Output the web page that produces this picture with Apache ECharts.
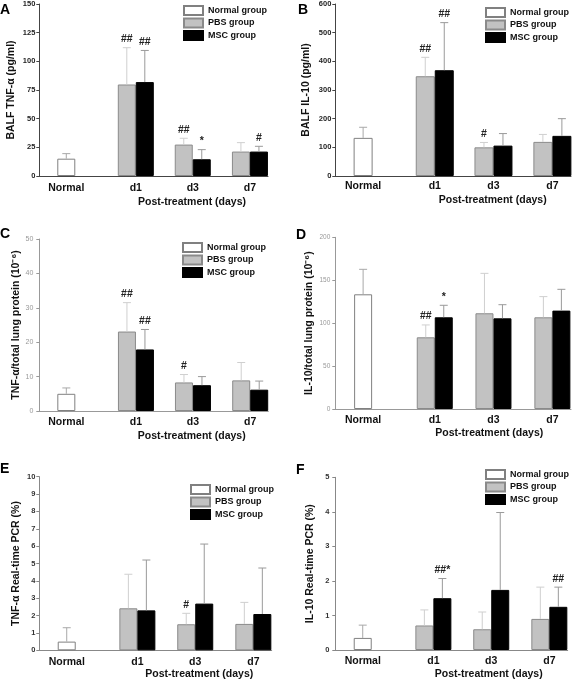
<!DOCTYPE html>
<html><head><meta charset="utf-8">
<script src="https://cdn.jsdelivr.net/npm/echarts@6/dist/echarts.min.js"></script>
<style>html,body{margin:0;padding:0;background:#fff}#c{width:572px;height:681px}</style>
</head><body><div id="c"></div>
<script>
// ---------- data ----------
const categories = ['Normal', 'd1', 'd3', 'd7'];
const groupNames = ['Normal group', 'PBS group', 'MSC group'];

// A: BALF TNF-α (pg/ml)
const aNormal = [15.1], aNormalErr = [4.4];
const aPBS = [79.8, 27.4, 21.3], aPBSErr = [32.1, 5.5, 7.8];
const aMSC = [81.9, 14.6, 21.3], aMSCErr = [27.6, 8.4, 4.6];
const aPBSSig = ['##', '##', ''], aMSCSig = ['##', '*', '#'];

// B: BALF IL-10 (pg/ml)
const bNormal = [133], bNormalErr = [37];
const bPBS = [348, 100, 119], bPBSErr = [66, 17, 26];
const bMSC = [369, 106, 140], bMSCErr = [166, 42, 60];
const bPBSSig = ['##', '#', ''], bMSCSig = ['##', '', ''];

// C: TNF-α/total lung protein
const cNormal = [5.0], cNormalErr = [1.7];
const cPBS = [23.1, 8.3, 8.9], cPBSErr = [8.4, 2.3, 5.2];
const cMSC = [17.9, 7.5, 6.2], cMSCErr = [5.8, 2.5, 2.5];
const cPBSSig = ['##', '#', ''], cMSCSig = ['##', '', ''];

// D: IL-10/total lung protein
const dNormal = [133.6], dNormalErr = [29.1];
const dPBS = [83.5, 111.5, 106.8], dPBSErr = [14.4, 46.5, 24.1];
const dMSC = [106.8, 105.6, 114.6], dMSCErr = [14.0, 15.9, 24.8];
const dPBSSig = ['##', '', ''], dMSCSig = ['*', '', ''];

// E: TNF-α Real-time PCR (%)
const eNormal = [0.5], eNormalErr = [0.8];
const ePBS = [2.42, 1.5, 1.52], ePBSErr = [1.96, 0.63, 1.24];
const eMSC = [2.3, 2.69, 2.09], eMSCErr = [2.9, 3.43, 2.65];
const ePBSSig = ['', '#', ''], eMSCSig = ['', '', ''];

// F: IL-10 Real-time PCR (%)
const fNormal = [0.35], fNormalErr = [0.37];
const fPBS = [0.71, 0.6, 0.9], fPBSErr = [0.45, 0.5, 0.92];
const fMSC = [1.5, 1.74, 1.25], fMSCErr = [0.57, 2.24, 0.57];
const fPBSSig = ['', '', ''], fMSCSig = ['##*', '', '##'];

const yTicksA = [0, 150, 25], yTicksB = [0, 600, 100], yTicksC = [0, 50, 10];
const yTicksD = [0, 200, 50], yTicksE = [0, 10, 1], yTicksF = [0, 5, 1];

// ---------- layout ----------
const FONT = '"Liberation Sans", Arial, Helvetica, sans-serif';
const catX = [0.118, 0.422, 0.671, 0.921];

const panels = [
  {letter:'A', lp:[0,3], grid:{left:39.3, top:4, width:228.7, height:172}, yt:yTicksA,
   yTitle:'BALF TNF-α (pg/ml)', nameGap:23, d:[aNormal,aNormalErr,aPBS,aPBSErr,aMSC,aMSCErr,aPBSSig,aMSCSig],
   bw:18, axisColor:'#444', lab:{color:'#222', fontWeight:'bold', fontSize:7.5}, lm:4, xm:7,
   legend:[183,5], xt:[192,202]},
  {letter:'B', lp:[298,3], grid:{left:335.3, top:4, width:235.7, height:172}, yt:yTicksB,
   yTitle:'BALF IL-10 (pg/ml)', nameGap:24, d:[bNormal,bNormalErr,bPBS,bPBSErr,bMSC,bMSCErr,bPBSSig,bMSCSig],
   bw:19, axisColor:'#444', lab:{color:'#222', fontWeight:'bold', fontSize:7.5}, lm:4, xm:5,
   legend:[485,7], xt:[492.7,200]},
  {letter:'C', lp:[0,227], grid:{left:39.3, top:239, width:229, height:172}, yt:yTicksC,
   yTitle:'TNF-α/total lung protein (10⁻⁶)', nameGap:18, d:[cNormal,cNormalErr,cPBS,cPBSErr,cMSC,cMSCErr,cPBSSig,cMSCSig],
   bw:18, axisColor:'#999', lab:{color:'#999', fontWeight:'normal', fontSize:7}, lm:6, xm:5.5,
   legend:[182,242], xt:[191.7,435.7]},
  {letter:'D', lp:[296,228], grid:{left:335.3, top:237.3, width:235.7, height:171.7}, yt:yTicksD,
   yTitle:'IL-10/total lung protein (10⁻⁶)', nameGap:21, d:[dNormal,dNormalErr,dPBS,dPBSErr,dMSC,dMSCErr,dPBSSig,dMSCSig],
   bw:18, axisColor:'#999', lab:{color:'#999', fontWeight:'normal', fontSize:6.5}, lm:5, xm:5.5,
   legend:null, xt:[489.3,433.3]},
  {letter:'E', lp:[0,462], grid:{left:39.3, top:476.7, width:232.4, height:173.6}, yt:yTicksE,
   yTitle:'TNF-α Real-time PCR (%)', nameGap:18, d:[eNormal,eNormalErr,ePBS,ePBSErr,eMSC,eMSCErr,ePBSSig,eMSCSig],
   bw:18, axisColor:'#888', lab:{color:'#333', fontWeight:'bold', fontSize:7.5}, lm:4, xm:6,
   legend:[190,484], xt:[199.3,674]},
  {letter:'F', lp:[296,463], grid:{left:335.3, top:477.3, width:232.4, height:172.7}, yt:yTicksF,
   yTitle:'IL-10 Real-time PCR (%)', nameGap:20, d:[fNormal,fNormalErr,fPBS,fPBSErr,fMSC,fMSCErr,fPBSSig,fMSCSig],
   bw:18, axisColor:'#888', lab:{color:'#333', fontWeight:'bold', fontSize:7.5}, lm:6, xm:6,
   legend:[485,469], xt:[488.7,674]}
];

const grids = [], xAxes = [], yAxes = [], series = [], legends = [], graphics = [];

function nearestCat(v) {
  let best = 0;
  for (let i = 1; i < catX.length; i++) if (Math.abs(catX[i] - v) < Math.abs(catX[best] - v)) best = i;
  return categories[best];
}

function errSeries(xi, yi, rows, half, color, name) {
  return {
    type: 'custom', name: name + ' error', xAxisIndex: xi, yAxisIndex: yi, z: 5,
    silent: true, tooltip: {show:false}, legendHoverLink: false,
    data: rows.map(r => [r[0], r[1], r[2]]),
    renderItem: function (params, api) {
      const x = api.value(0), v = api.value(1), e = api.value(2);
      const b = api.coord([x, v]);
      const t = api.coord([x, v + e]);
      const cx = b[0] + rows[params.dataIndex][3] * half;
      const sig = rows[params.dataIndex][4];
      const children = [
        {type:'line', shape:{x1:cx, y1:b[1], x2:cx, y2:t[1]}, style:{stroke:color, lineWidth:1}},
        {type:'line', shape:{x1:cx-4, y1:t[1], x2:cx+4, y2:t[1]}, style:{stroke:color, lineWidth:1}}
      ];
      if (sig) children.push({type:'text', x:cx, y:t[1]-3,
        style:{text:sig, textAlign:'center', textVerticalAlign:'bottom', fill:'#222',
               font:'bold 10.5px ' + FONT}});
      return {type:'group', children};
    }
  };
}

panels.forEach((p, i) => {
  grids.push(Object.assign({containLabel:false}, p.grid));
  const [nV, nE, pV, pE, mV, mE, pS, mS] = p.d;
  xAxes.push({
    type:'value', gridIndex:i, min:0, max:1,
    axisLine:{show:true, onZero:false, lineStyle:{color:p.axisColor, width:1}},
    axisTick:{show:false}, splitLine:{show:false},
    axisLabel:{customValues:catX, formatter:v => nearestCat(v), margin:p.xm,
      color:'#111', fontWeight:'bold', fontSize:10.5, fontFamily:FONT}
  });
  xAxes.push({type:'value', gridIndex:i, min:0, max:1, show:false, splitLine:{show:false}});
  yAxes.push({
    type:'value', gridIndex:i, min:p.yt[0], max:p.yt[1], interval:p.yt[2],
    axisLine:{show:true, lineStyle:{color:p.axisColor, width:1}},
    axisTick:{show:true, length:3, lineStyle:{color:p.axisColor}},
    splitLine:{show:false},
    axisLabel:Object.assign({margin:p.lm, fontFamily:FONT}, p.lab),
    name:p.yTitle, nameLocation:'middle', nameRotate:90, nameGap:p.nameGap,
    nameTextStyle:{fontFamily:FONT, fontWeight:'bold', fontSize:10.5, color:'#111'}
  });
  const xv = 2*i, xh = 2*i+1;
  series.push({type:'bar', name:groupNames[0], xAxisIndex:xh, yAxisIndex:i, barWidth:p.bw,
    itemStyle:{color:'#ffffff', borderColor:'#808080', borderWidth:1},
    data:nV.map(v => [catX[0], v])});
  series.push({type:'bar', name:groupNames[1], xAxisIndex:xv, yAxisIndex:i, barWidth:p.bw, barGap:'0%',
    itemStyle:{color:'#c2c2c2', borderColor:'#8a8a8a', borderWidth:1},
    data:pV.map((v, k) => [catX[k+1], v])});
  series.push({type:'bar', name:groupNames[2], xAxisIndex:xv, yAxisIndex:i, barWidth:p.bw, barGap:'0%',
    itemStyle:{color:'#000000', borderColor:'#000000', borderWidth:1},
    data:mV.map((v, k) => [catX[k+1], v])});
  const half = p.bw / 2;
  series.push(errSeries(xv, i, nV.map((v, k) => [catX[0], v, nE[k], 0, '']), half, '#a8a8a8', 'n'));
  series.push(errSeries(xv, i, pV.map((v, k) => [catX[k+1], v, pE[k], -1, pS[k]]), half, '#cfcfcf', 'p'));
  series.push(errSeries(xv, i, mV.map((v, k) => [catX[k+1], v, mE[k], 1, mS[k]]), half, '#9a9a9a', 'm'));

  if (p.legend) legends.push({
    data:groupNames, orient:'vertical', left:p.legend[0], top:p.legend[1],
    itemWidth:19, itemHeight:9, itemGap:1.5, icon:'rect', selectedMode:false, padding:0,
    textStyle:{fontFamily:FONT, fontWeight:'bold', fontSize:9, color:'#111', padding:[0,0,0,0]}
  });
  graphics.push({type:'text', left:p.lp[0], top:p.lp[1],
    style:{text:p.letter, font:'bold 14px ' + FONT, fill:'#000'}});
  graphics.push({type:'text', x:p.xt[0], y:p.xt[1],
    style:{text:'Post-treatment (days)', font:'bold 10.5px ' + FONT, fill:'#111',
           textAlign:'center', textVerticalAlign:'middle'}});
});

const chart = echarts.init(document.getElementById('c'), null, {renderer:'canvas'});
chart.setOption({
  animation:false, backgroundColor:'#ffffff',
  textStyle:{fontFamily:FONT},
  grid:grids, xAxis:xAxes, yAxis:yAxes, series:series, legend:legends, graphic:graphics
});
</script></body></html>
